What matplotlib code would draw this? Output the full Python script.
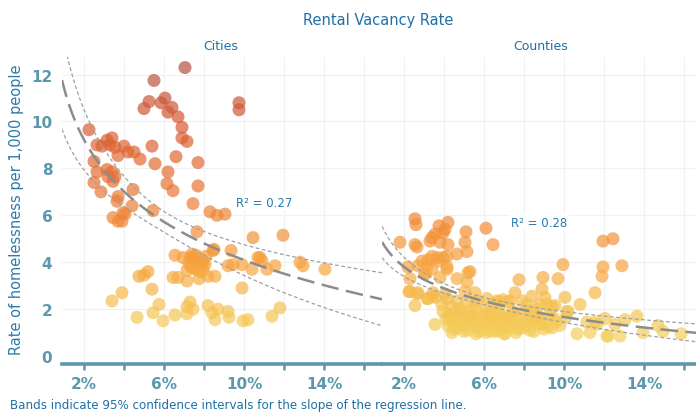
"""Rental vacancy rate vs. rate of homelessness, cities and counties."""

from __future__ import annotations

import matplotlib

matplotlib.use("Agg")
import matplotlib.pyplot as plt
import numpy as np
from matplotlib.colors import LinearSegmentedColormap

# vacancy rate (%) and homelessness per 1,000 people
CITY_VACANCY = [
    7.05, 5.5, 5.0, 5.25, 5.85, 6.05, 6.4, 6.2, 6.7, 6.9, 6.9, 7.15, 9.75, 9.75,
    2.25, 2.65, 2.9, 3.15, 3.4, 3.3, 3.55, 3.7, 4.0, 4.2, 4.5, 4.8, 2.5, 5.4,
    5.55, 6.6, 7.7, 6.2, 6.15, 6.45, 7.7, 7.45, 8.3, 8.65, 9.05,
    2.65, 2.5, 2.85, 3.15, 3.4, 3.2, 3.55, 3.45, 3.7, 3.65, 4.45, 4.4, 4.05,
    3.45, 3.9, 5.45, 7.65, 3.7, 3.95,
    8.5, 9.35, 10.45, 11.95, 6.55, 6.95, 7.3, 7.5, 7.7, 7.9, 7.35, 7.15, 7.6,
    7.85, 8.05, 7.45, 7.8, 8.1, 7.25, 7.55, 7.95, 7.15, 7.75, 8.2, 8.55, 9.2,
    9.45, 9.9, 10.4, 10.8, 11.15, 11.55, 12.8, 12.95, 14.05, 9.9, 4.75, 5.0,
    5.2, 5.4, 6.45, 6.7, 10.7, 10.9, 8.45, 7.6, 7.95, 7.4,
    3.4, 3.9, 4.65, 5.45, 5.75, 5.95, 6.55, 7.15, 7.15, 7.45, 7.3, 8.2, 8.4,
    8.55, 8.7, 9.2, 9.25, 9.95, 10.2, 11.4, 11.8,
]
CITY_RATE = [
    12.3, 11.75, 10.55, 10.85, 10.8, 11.0, 10.6, 10.4, 10.2, 9.75, 9.3, 9.15, 10.8, 10.5,
    9.65, 9.0, 8.95, 9.2, 9.3, 9.0, 8.9, 8.55, 8.95, 8.7, 8.7, 8.4, 8.3, 8.95,
    8.2, 8.5, 8.25, 7.85, 7.35, 7.05, 7.25, 6.5, 6.15, 6.0, 6.05,
    7.85, 7.4, 7.0, 7.95, 7.85, 7.65, 7.65, 7.45, 6.8, 6.6, 7.1, 6.4, 6.05,
    5.9, 5.75, 6.2, 5.3, 5.75, 6.1,
    4.55, 4.5, 5.05, 5.15, 4.3, 4.2, 4.2, 4.05, 3.95, 4.1, 3.8, 3.65, 3.7,
    3.85, 3.9, 4.15, 3.6, 4.25, 3.95, 3.75, 3.65, 3.2, 3.3, 3.4, 3.4, 3.85,
    3.9, 3.9, 3.7, 4.2, 3.7, 3.85, 4.0, 3.85, 3.7, 2.9, 3.4, 3.45,
    3.6, 2.85, 3.35, 3.35, 4.2, 4.05, 4.5, 4.3, 4.0, 4.35,
    2.35, 2.7, 1.65, 1.85, 2.2, 1.5, 1.75, 2.1, 1.8, 2.0, 2.3, 2.15, 1.85,
    1.55, 2.0, 1.9, 1.65, 1.5, 1.55, 1.7, 2.05,
]

COUNTY_VACANCY = [
    # upper orange group
    2.55, 2.6, 1.8, 3.75, 4.2, 4.05, 3.95, 3.4, 3.55, 3.3, 3.8, 4.2, 2.55, 2.65,
    5.1, 5.05, 5.15, 4.65, 6.1, 6.45, 4.15, 3.65, 3.4, 2.9, 3.15, 4.15, 5.2,
    4.65, 5.15, 5.55, 2.3, 2.25, 2.55, 3.55, 3.05, 2.7, 3.45, 3.7,
    # middle orange band
    2.3, 2.65, 3.2, 3.55, 3.9, 4.4, 4.65, 4.8, 5.15, 5.55, 4.05, 5.3, 5.05,
    2.2, 2.7, 3.05, 3.4, 3.8, 4.15, 3.2, 3.95, 3.15, 3.4, 4.15,
    9.95, 8.95, 9.7, 7.75, 8.9, 8.4, 7.55, 9.05, 9.4, 10.05, 10.8, 11.55,
    11.95, 12.45, 11.95, 11.9, 12.9, 10.15, 6.15, 6.95, 6.7, 7.3, 6.4, 5.7,
    8.8, 8.15, 7.9, 6.65, 7.15, 9.15, 8.65, 9.55, 10.2,
    # right tail
    13.65, 12.05, 12.55, 13.05, 14.7, 14.95, 15.85, 13.95, 11.3, 10.65, 12.15,
    11.15, 11.65, 12.8, 12.2, 11.55,
    # dense yellow cluster
    4.3, 4.9, 5.4, 5.9, 6.3, 6.8, 7.4, 8.0, 8.6, 9.3,
    4.1, 4.6, 5.1, 5.6, 6.1, 6.6, 7.1, 7.6, 8.2, 8.8, 9.5, 10.1,
    4.4, 4.8, 5.3, 5.8, 6.4, 6.9, 7.3, 7.8, 8.4, 9.0,
    4.2, 4.7, 5.0, 5.5, 6.0, 6.5, 7.0, 7.5, 8.1, 8.7, 9.2, 9.8,
    4.5, 5.2, 5.7, 6.2, 6.7, 7.2, 7.7, 8.3, 9.0,
    4.4, 5.0, 5.6, 6.1, 6.6, 7.0, 7.6, 8.5,
    4.6, 5.35, 6.05, 6.75, 7.45, 8.25, 5.75, 6.35, 7.05, 3.95, 4.25,
    4.55, 5.05, 5.45, 5.95, 6.5, 6.95, 7.35, 7.85, 8.45, 8.95, 9.6,
    4.75, 5.25, 5.7, 6.25, 6.85, 7.25, 7.95, 8.65, 9.4,
]
COUNTY_RATE = [
    5.85, 5.6, 4.85, 5.55, 5.7, 5.4, 5.25, 5.05, 5.2, 4.9, 4.85, 4.75, 4.75, 4.65,
    5.3, 4.85, 4.45, 4.35, 5.45, 4.75, 4.25, 4.2, 4.25, 4.05, 3.85, 3.7, 3.55,
    3.3, 3.15, 2.7, 3.3, 2.75, 2.15, 1.35, 3.5, 2.7, 2.7, 4.05,
    2.75, 2.65, 2.45, 2.5, 2.2, 2.1, 2.35, 2.0, 2.3, 2.2, 2.65, 3.6, 2.75,
    3.8, 3.85, 3.5, 3.7, 3.35, 3.8, 4.1, 4.2, 2.45, 2.55, 2.45,
    3.9, 3.35, 3.3, 3.25, 2.85, 2.55, 2.7, 2.5, 2.1, 2.5, 2.2, 2.7,
    4.9, 5.0, 3.8, 3.4, 3.85, 1.9, 2.45, 2.4, 2.3, 2.35, 2.2, 2.35,
    2.2, 2.2, 2.35, 2.35, 2.3, 2.2, 2.0, 2.15, 1.9,
    1.7, 1.6, 1.35, 1.55, 1.3, 1.05, 0.95, 1.0, 1.0, 0.95, 0.85,
    1.45, 1.35, 0.85, 0.85, 1.45,
    1.8, 1.85, 1.75, 1.8, 1.85, 1.75, 1.8, 1.85, 1.75, 1.8,
    1.6, 1.65, 1.55, 1.6, 1.65, 1.6, 1.55, 1.65, 1.6, 1.55, 1.6, 1.65,
    1.45, 1.4, 1.5, 1.45, 1.4, 1.5, 1.45, 1.4, 1.5, 1.45,
    1.3, 1.25, 1.35, 1.3, 1.25, 1.3, 1.35, 1.25, 1.3, 1.35, 1.25, 1.3,
    1.15, 1.1, 1.2, 1.15, 1.1, 1.2, 1.15, 1.1, 1.15,
    1.0, 1.05, 0.95, 1.0, 1.05, 0.95, 1.0, 1.05,
    1.9, 1.95, 1.9, 1.95, 1.9, 1.95, 1.05, 1.05, 0.95, 1.9, 1.7,
    1.5, 1.35, 1.55, 1.4, 1.5, 1.35, 1.5, 1.4, 1.55, 1.35, 1.45,
    1.2, 1.7, 1.25, 1.7, 1.2, 1.65, 1.2, 1.7, 1.2,
]

PANELS = ["Cities", "Counties"]
R_SQUARED = ["R\u00b2 = 0.27", "R\u00b2 = 0.28"]
X_TICKS = [2, 6, 10, 14]
X_MINOR = [4, 8, 12, 16]
Y_TICKS = [0, 2, 4, 6, 8, 10, 12]

TEAL = "#5b97ad"
BLUE = "#1f70a6"
POINT_CMAP = LinearSegmentedColormap.from_list(
    "vacancy",
    [(0.0, "#f3d05c"), (0.12, "#f5c152"), (0.26, "#f7a540"), (0.4, "#f28d38"),
     (0.6, "#e56f33"), (0.8, "#d75b33"), (1.0, "#b65044")],
)


def _log_fit_band(x: np.ndarray, y: np.ndarray, grid: np.ndarray):
    lx = np.log(x)
    slope, intercept = np.polyfit(lx, y, 1)
    resid = y - (intercept + slope * lx)
    n = len(x)
    s = np.sqrt(np.sum(resid**2) / (n - 2))
    sxx = np.sum((lx - lx.mean()) ** 2)
    lg = np.log(grid)
    fit = intercept + slope * lg
    half = 1.96 * s * np.sqrt(1.0 / n + (lg - lx.mean()) ** 2 / sxx)
    return fit, fit - half, fit + half


def _style_axis(ax, xmax: float) -> None:
    ax.set_xlim(0.9, xmax)
    ax.set_ylim(-0.34, 12.75)
    for side in ["top", "right", "left"]:
        ax.spines[side].set_visible(False)
    ax.spines["bottom"].set_color(TEAL)
    ax.spines["bottom"].set_linewidth(2.6)
    ax.set_xticks(X_TICKS)
    ax.set_xticklabels([f"{t}%" for t in X_TICKS], fontsize=11, fontweight="bold", color=TEAL)
    ax.set_xticks(X_MINOR, minor=True)
    ax.tick_params(axis="x", which="both", direction="out", length=4, width=1.8, color=TEAL, pad=5)
    ax.set_yticks(Y_TICKS)
    ax.tick_params(axis="y", length=0)
    for v in X_TICKS + X_MINOR:
        ax.axvline(v, color="#f0f0f0", lw=0.8, zorder=0)
    for v in Y_TICKS[1:]:
        ax.axhline(v, color="#f0f0f0", lw=0.8, zorder=0)


def main() -> None:
    fig = plt.figure(figsize=(6.96, 4.14), dpi=100)
    left = fig.add_axes([62 / 696, 49 / 414, 320 / 696, 307 / 414])
    right = fig.add_axes([382 / 696, 49 / 414, 314 / 696, 307 / 414])

    datasets = [
        (left, np.array(CITY_VACANCY), np.array(CITY_RATE), 16.9),
        (right, np.array(COUNTY_VACANCY), np.array(COUNTY_RATE), 16.6),
    ]
    for i, (ax, x, y, xmax) in enumerate(datasets):
        _style_axis(ax, xmax)
        ax.scatter(x, y, c=y, cmap=POINT_CMAP, vmin=0.8, vmax=12.3, s=88, alpha=0.7,
                   linewidths=0, zorder=2)
        grid = np.linspace(0.9, xmax, 200)
        fit, lo, hi = _log_fit_band(x, y, grid)
        ax.plot(grid, fit, color="#8c8c8c", lw=1.8, dashes=(7, 3), zorder=3)
        ax.plot(grid, lo, color="#a0a0a0", lw=0.9, dashes=(3, 2), zorder=3)
        ax.plot(grid, hi, color="#a0a0a0", lw=0.9, dashes=(3, 2), zorder=3)
        if i == 0:
            ax.set_yticklabels([str(t) for t in Y_TICKS], fontsize=11, fontweight="bold", color=TEAL)
            ax.tick_params(axis="y", pad=7)
        else:
            ax.set_yticklabels([])

    left.text(11.0, 6.55, R_SQUARED[0], fontsize=8.5, color="#2a79ad", ha="center", va="center",
              zorder=4, bbox=dict(facecolor="white", edgecolor="none", pad=1))
    right.text(8.75, 5.7, R_SQUARED[1], fontsize=8.5, color="#2a79ad", ha="center", va="center",
               zorder=4, bbox=dict(facecolor="white", edgecolor="none", pad=1))

    fig.text(378 / 696, 1 - 20 / 414, "Rental Vacancy Rate", fontsize=10.5, color=BLUE,
             ha="center", va="center")
    fig.text(221 / 696, 1 - 47 / 414, PANELS[0], fontsize=9, color=BLUE, ha="center", va="center")
    fig.text(541 / 696, 1 - 47 / 414, PANELS[1], fontsize=9, color=BLUE, ha="center", va="center")
    fig.text(17 / 696, 1 - 210 / 414, "Rate of homelessness per 1,000 people", fontsize=10.5,
             color="#2b7bab", rotation=90, ha="center", va="center")
    fig.text(10 / 696, 1 - 406 / 414, "Bands indicate 95% confidence intervals for the slope of the regression line.",
             fontsize=8.6, color=BLUE, ha="left", va="center")

    fig.savefig("out.png", dpi=100)
    plt.close(fig)


if __name__ == "__main__":
    main()
